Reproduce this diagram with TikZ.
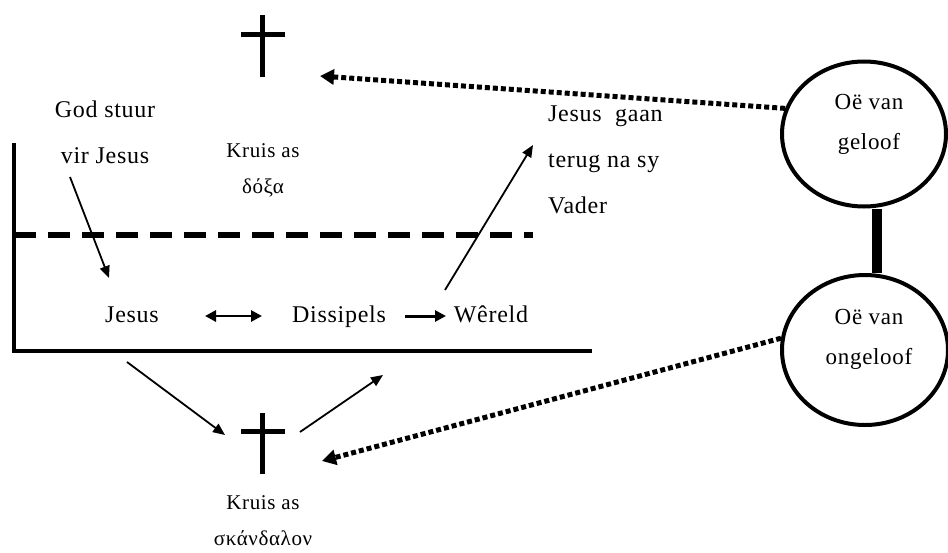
\documentclass[tikz,border=0pt]{standalone}
\usepackage{fontspec}
\setmainfont{Liberation Serif}[LetterSpace=3]
\usetikzlibrary{shapes.geometric,arrows.meta}

\tikzset{
  bigtext/.style={font=\fontsize{24}{46}\selectfont,inner sep=0pt,align=center},
  crosstext/.style={font=\fontsize{21}{36}\selectfont,inner sep=0pt,align=center},
  eye/.style={draw,line width=4pt,ellipse,inner sep=0pt},
  eyetext/.style={font=\fontsize{23}{40}\selectfont,inner sep=0pt,align=center},
  arr/.style={line width=1.8pt,-{Triangle[length=12pt,width=10pt]}},
  harr/.style={line width=3pt,-{Triangle[length=11pt,width=11pt]}},
  darr/.style={line width=2.8pt,{Triangle[length=11pt,width=11pt]}-{Triangle[length=11pt,width=11pt]}},
  dotarr/.style={line width=5pt,dash pattern=on 5pt off 3pt,-{Triangle[length=14pt,width=15pt]}},
  crossbar/.style={line width=5pt}
}

\begin{document}
\begin{tikzpicture}[x=1pt,y=-1pt]
\useasboundingbox (0,0) rectangle (948,552);

% kruise
\coordinate (crossup) at (262,46);
\coordinate (crossdown) at (262,443);
\begin{scope}[crossbar]
\draw (262,15) -- (262,77);
\draw (241,34) -- (285,34);
\draw (262,413) -- (262,474);
\draw (241,431) -- (285,431);
\end{scope}
\node[crosstext] (doxa) at (263,170) {Kruis as\\δόξα};
\node[crosstext] (skandalon) at (263,521) {Kruis as\\σκάνδαλον};

% raam
\draw[line width=4.5pt] (14,143) -- (14,351) -- (592,351);
\draw[line width=5.5pt,dash pattern=on 22pt off 12pt] (14,235) -- (533,235);

% teks
\node[bigtext] (god) at (105,132) {God stuur\\vir Jesus};
\node[bigtext,anchor=base] (jesus) at (132,322) {Jesus};
\node[bigtext,anchor=base] (dis) at (339,322) {Dissipels};
\node[bigtext,anchor=base] (wer) at (491,322) {Wêreld};
\node[bigtext,align=left,anchor=west] (vader) at (548,160) {Jesus\ \ gaan\\terug\ na\ sy\\Vader};

\draw[arr] (70,177) -- (109,278);
\draw[darr] (205,316) -- (262,316);
\draw[harr] (405,316) -- (446,316);
\draw[arr] (445,290) -- (533,145);
\draw[arr] (127,362) -- (225,435);
\draw[arr] (300,432) -- (383,375);

% oë
\node[eye,minimum width=164pt,minimum height=145pt] (geloof) at (864,134) {};
\node[eye,minimum width=166pt,minimum height=150pt] (ongeloof) at (865,350) {};
\node[eyetext] (geloofT) at (869,124) {Oë van\\geloof};
\node[eyetext] (ongeloofT) at (869,339) {Oë van\\ongeloof};
\draw[line width=10pt] (geloof.south -| 877,0) -- (ongeloof.north -| 877,0);

\coordinate (upin) at (320,76);
\coordinate (downin) at (322,461);
\draw[dotarr] (geloof.162) -- (upin);
\draw[dotarr] (ongeloof.172) -- (downin);
\end{tikzpicture}
\end{document}
